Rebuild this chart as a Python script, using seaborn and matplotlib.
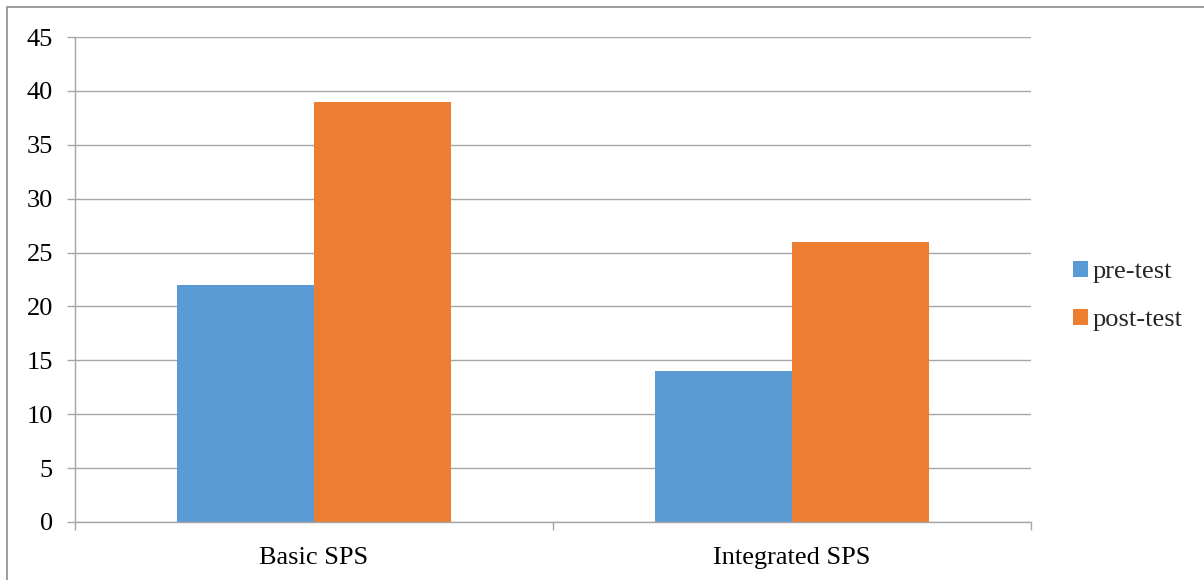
import matplotlib
matplotlib.use("Agg")
import matplotlib.pyplot as plt
import seaborn as sns
import pandas as pd
from matplotlib.patches import Rectangle, Patch
from matplotlib.ticker import FixedLocator

categories = ["Basic SPS", "Integrated SPS"]
groups = ["pre-test", "post-test"]
pre_test = [22, 14]
post_test = [39, 26]
y_ticks = [0, 5, 10, 15, 20, 25, 30, 35, 40, 45]

colors = {"pre-test": "#5B9BD5", "post-test": "#ED7D31"}
grid_color = "#A6A6A6"
font_size = 19

df = pd.DataFrame({
    "category": categories * 2,
    "group": [groups[0]] * len(categories) + [groups[1]] * len(categories),
    "score": pre_test + post_test,
})

sns.set_theme(style="white")
plt.rcParams["font.family"] = ["Liberation Serif", "DejaVu Serif"]

fig = plt.figure(figsize=(12.04, 5.8), dpi=100)
ax = fig.add_axes([75 / 1204, 1 - 522 / 580, (1031 - 75) / 1204, (522 - 37) / 580])

sns.barplot(data=df, x="category", y="score", hue="group", palette=colors,
            width=0.573, order=categories, hue_order=groups, ax=ax,
            saturation=1, errorbar=None, legend=False)
for p in ax.patches:
    p.set_edgecolor("none")

ax.set_xlim(-0.5, len(categories) - 0.5)
ax.set_ylim(0, 45)
ax.set_yticks(y_ticks)
ax.yaxis.grid(True, color=grid_color, linewidth=1)
ax.set_axisbelow(True)

ax.set_xlabel("")
ax.set_ylabel("")
ax.xaxis.set_minor_locator(FixedLocator([i - 0.5 for i in range(len(categories) + 1)]))
ax.tick_params(axis="x", which="minor", bottom=True, length=6, width=1,
               color=grid_color, direction="out")
ax.tick_params(axis="x", which="major", bottom=False, length=0, pad=18,
               labelsize=font_size, labelcolor="black")
ax.tick_params(axis="y", left=True, length=6, width=1, color=grid_color,
               direction="out", pad=10, labelsize=font_size, labelcolor="black")

for side in ["top", "right"]:
    ax.spines[side].set_visible(False)
for side in ["left", "bottom"]:
    ax.spines[side].set_color(grid_color)
    ax.spines[side].set_linewidth(1)

handles = [Patch(facecolor=colors[g], edgecolor="none") for g in groups]
fig.legend(handles, groups, loc="center left", bbox_to_anchor=(1060 / 1204, 1 - 296 / 580),
           frameon=False, fontsize=font_size, handlelength=0.55, handleheight=0.55,
           handletextpad=0.2, labelspacing=0.98, borderpad=0)

# Chart-area border
fig.patches.append(Rectangle((7 / 1204, -0.01), 1.02, 1 - 7 / 580 + 0.01,
                             transform=fig.transFigure, fill=False,
                             edgecolor="#8C8C8C", linewidth=1.2))

fig.savefig("out.png", dpi=100)
